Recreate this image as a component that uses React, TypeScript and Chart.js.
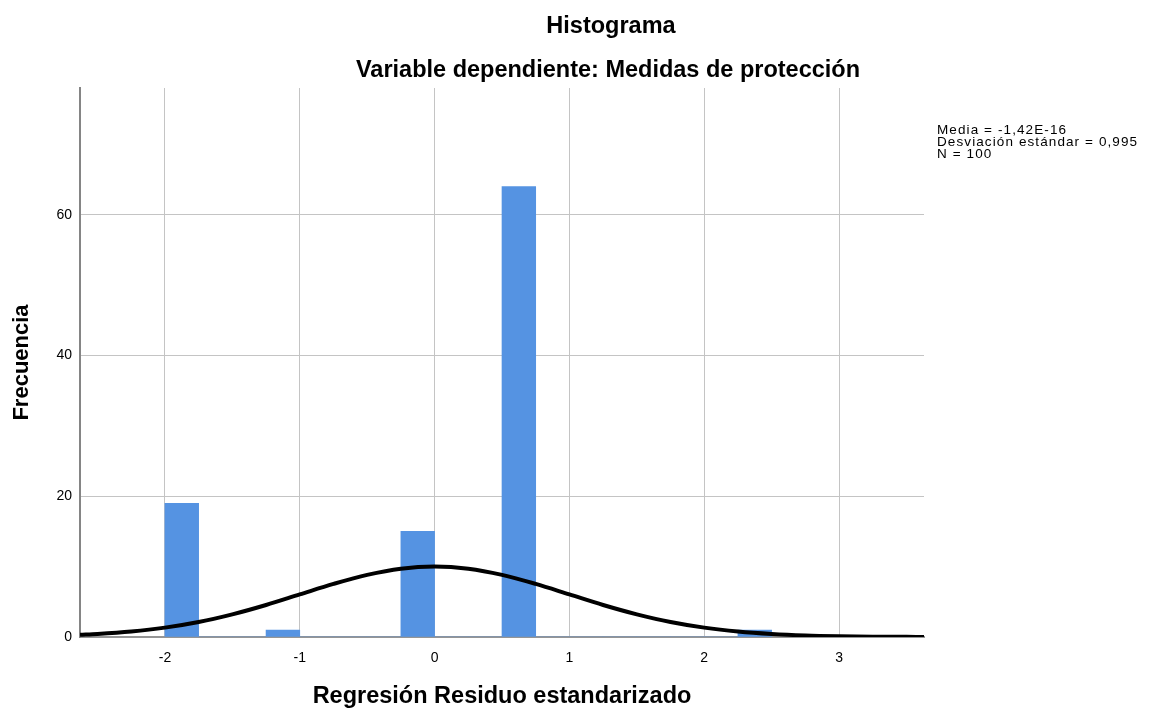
import React, { useEffect, useRef } from "react";
import { Chart, registerables } from "chart.js";

Chart.register(...registerables);

const chartTitle = "Histograma";
const chartSubtitle = "Variable dependiente: Medidas de protección";
const xAxisTitle = "Regresión Residuo estandarizado";
const yAxisTitle = "Frecuencia";
const statsLines = ["Media = -1,42E-16", "Desviación estándar = 0,995", "N = 100"];

// histogram bins (centers, width 0.25)
const binCenters = [
  -1.875, -1.625, -1.375, -1.125, -0.875, -0.625, -0.375, -0.125, 0.125, 0.375,
  0.625, 0.875, 1.125, 1.375, 1.625, 1.875, 2.125, 2.375,
];
const frequencies = [19, 0, 0, 1, 0, 0, 0, 15, 0, 0, 64, 0, 0, 0, 0, 0, 0, 1];

// normal curve
const curveX = [
  -2.63, -2.5, -2.25, -2, -1.75, -1.5, -1.25, -1, -0.75, -0.5, -0.25, 0, 0.25, 0.5,
  0.75, 1, 1.25, 1.5, 1.75, 2, 2.25, 2.5, 2.75, 3, 3.25, 3.5, 3.63,
];
const curveY = [
  0.31, 0.43, 0.78, 1.33, 2.13, 3.22, 4.55, 6.05, 7.54, 8.83, 9.71, 10.02, 9.71, 8.83,
  7.54, 6.05, 4.55, 3.22, 2.13, 1.33, 0.78, 0.43, 0.22, 0.11, 0.05, 0.02, 0.01,
];

const xMin = -2.63;
const xMax = 3.63;
const yMax = 78;

const FONT = "'Liberation Sans', Arial, sans-serif";

export default function App() {
  const ref = useRef<HTMLCanvasElement | null>(null);

  useEffect(() => {
    if (!ref.current) return;
    const textPlugin = {
      id: "spssText",
      afterDraw(chart: any) {
        const ctx = chart.ctx;
        ctx.save();
        ctx.fillStyle = "#000";
        ctx.textAlign = "center";
        ctx.textBaseline = "middle";
        ctx.font = `bold 23.5px ${FONT}`;
        ctx.fillText(chartTitle, 611, 27);
        ctx.fillText(chartSubtitle, 608, 71);
        ctx.textAlign = "left";
        ctx.textBaseline = "alphabetic";
        ctx.font = `13.5px ${FONT}`;
        try {
          (ctx as any).letterSpacing = "1.1px";
        } catch (e) {}
        statsLines.forEach((s, i) => ctx.fillText(s, 937, 134 + i * 11.8));
        ctx.restore();
      },
    };

    const chart = new Chart(ref.current, {
      type: "bar",
      data: {
        datasets: [
          {
            type: "line",
            data: curveX.map((x, i) => ({ x, y: curveY[i] })),
            borderColor: "#000000",
            borderWidth: 4,
            pointRadius: 0,
            tension: 0.4,
            cubicInterpolationMode: "monotone",
            fill: false,
            order: 0,
          } as any,
          {
            type: "bar",
            data: binCenters.map((x, i) => ({ x, y: frequencies[i] })),
            backgroundColor: "#5593e2",
            borderWidth: 0,
            barPercentage: 1,
            categoryPercentage: 1,
            order: 1,
          } as any,
        ],
      },
      options: {
        responsive: false,
        animation: false,
        devicePixelRatio: 1,
        layout: { padding: { top: 88, right: 226, left: 0, bottom: 0 } },
        plugins: {
          legend: { display: false },
          tooltip: { enabled: false },
          title: { display: false },
        },
        scales: {
          x: {
            type: "linear",
            min: xMin,
            max: xMax,
            offset: false,
            afterFit: (s: any) => {
              s.height = 74;
            },
            ticks: {
              stepSize: 1,
              includeBounds: false,
              padding: 13,
              color: "#000",
              font: { family: FONT, size: 14 },
            },
            grid: { offset: false, drawTicks: false, color: "#c4c4c4", lineWidth: 1 },
            border: { display: true, color: "#959595", width: 2 },
            title: {
              display: true,
              text: xAxisTitle,
              color: "#000",
              font: { family: FONT, size: 23.5, weight: "bold" },
              padding: { top: 0, bottom: 0 },
            },
          },
          y: {
            type: "linear",
            min: 0,
            max: yMax,
            afterFit: (s: any) => {
              s.width = 80;
            },
            ticks: {
              stepSize: 20,
              includeBounds: false,
              padding: 8,
              color: "#000",
              font: { family: FONT, size: 14 },
            },
            grid: { drawTicks: false, color: "#c4c4c4", lineWidth: 1 },
            border: { display: true, color: "#858585", width: 2 },
            title: {
              display: true,
              text: yAxisTitle,
              color: "#000",
              font: { family: FONT, size: 22, weight: "bold" },
              padding: { top: 9, bottom: 0 },
            },
          },
        },
      },
      plugins: [textPlugin],
    } as any);
    return () => chart.destroy();
  }, []);

  return (
    <div style={{ position: "absolute", left: 0, top: 0, width: 1150, height: 711, background: "#fff" }}>
      <canvas ref={ref} width={1150} height={711} style={{ display: "block" }} />
    </div>
  );
}
